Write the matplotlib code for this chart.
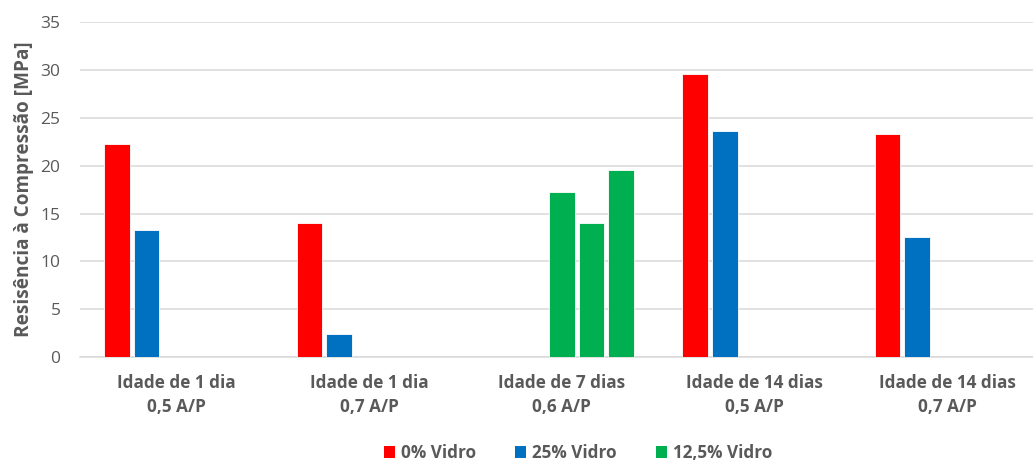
import numpy as np
import matplotlib
matplotlib.use("Agg")
import matplotlib.pyplot as plt
from matplotlib.patches import Patch

categories = ["Idade de 1 dia\n0,5 A/P", "Idade de 1 dia\n0,7 A/P", "Idade de 7 dias\n0,6 A/P",
              "Idade de 14 dias\n0,5 A/P", "Idade de 14 dias\n0,7 A/P"]
vidro_0 = [22.3, 14.0, None, 29.6, 23.35]
vidro_25 = [13.25, 2.45, None, 23.65, 12.5]
# the 7-day group has three 12,5% samples, drawn in the last three slots
vidro_12_5 = [17.25, 14.0, 19.6]
vidro_12_5_cat = 2

RED = "#FF0000"
BLUE = "#0070C0"
GREEN = "#00B050"
TXT = "#595959"
GRID = "#D9D9D9"

plt.rcParams["font.family"] = ["Open Sans", "DejaVu Sans"]

fig = plt.figure(figsize=(10.33, 4.62), dpi=100)
# plot area runs a bit past the right edge of the figure
ax = fig.add_axes([80 / 1033, 1 - 357 / 462, 963.5 / 1033, (357 - 22.3) / 462])

x = np.arange(len(categories))
slot = 0.1546
bw = 0.134


def draw(cat_idx, slot_idx, vals, color):
    pos = [x[i] + (s - 2) * slot for i, s, v in zip(cat_idx, slot_idx, vals) if v is not None]
    h = [v for v in vals if v is not None]
    ax.bar(pos, h, width=bw, color=color, edgecolor="white", linewidth=0.6, zorder=3)


draw(range(5), [0] * 5, vidro_0, RED)
draw(range(5), [1] * 5, vidro_25, BLUE)
draw([vidro_12_5_cat] * 3, [2, 3, 4], vidro_12_5, GREEN)

ax.set_xlim(-0.5, len(categories) - 0.5)
ax.set_ylim(0, 35)
ax.set_yticks(range(0, 36, 5))
ax.yaxis.grid(True, color=GRID, linewidth=1.1, zorder=0)
ax.set_axisbelow(True)
for s in ["top", "right", "left"]:
    ax.spines[s].set_visible(False)
ax.spines["bottom"].set_color(GRID)
ax.spines["bottom"].set_linewidth(1.1)
ax.tick_params(axis="both", length=0, colors=TXT)
ax.tick_params(axis="y", labelsize=12.5, pad=14)
ax.set_xticks(x)
ax.set_xticklabels(categories, fontsize=12.3, fontweight="bold", color=TXT, linespacing=1.45)
ax.tick_params(axis="x", pad=12)
ax.set_ylabel("Resisência à Compressão [MPa]", fontsize=13.7, fontweight="bold", color=TXT, labelpad=5)

handles = [Patch(facecolor=RED, label="0% Vidro"),
           Patch(facecolor=BLUE, label="25% Vidro"),
           Patch(facecolor=GREEN, label="12,5% Vidro")]
leg = fig.legend(handles=handles, loc="center", bbox_to_anchor=(578 / 1033, 1 - 453 / 462), ncol=3,
                 frameon=False, handlelength=0.65, handleheight=0.65, handletextpad=0.35, columnspacing=2.3,
                 prop={"size": 12.3, "weight": "bold"})
for t in leg.get_texts():
    t.set_color(TXT)

fig.savefig("out.png", dpi=100)
